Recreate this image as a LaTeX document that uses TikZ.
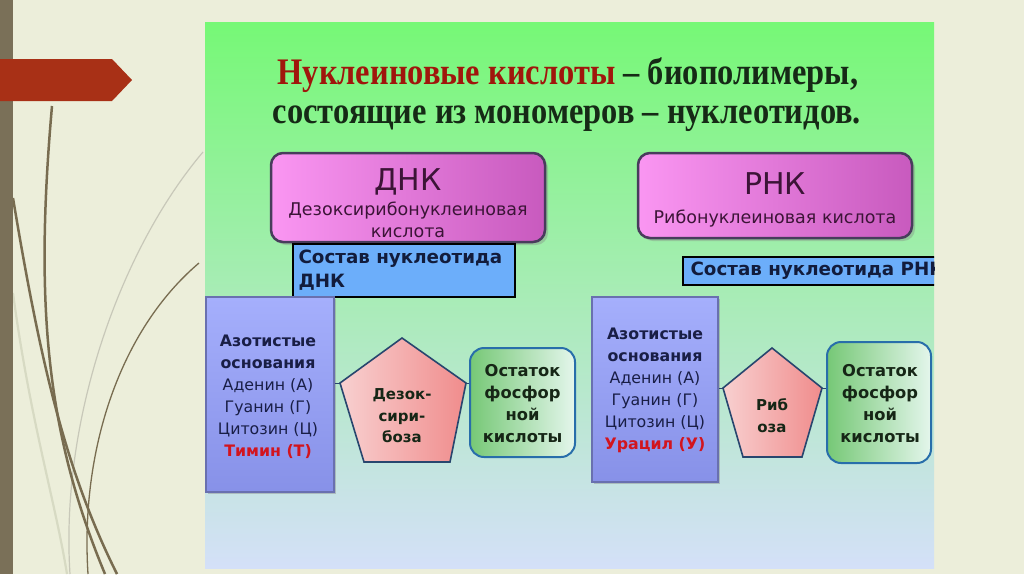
\documentclass[tikz,border=0pt]{standalone}
\usepackage{fontspec}
\setmainfont{DejaVu Sans}
\newfontfamily\titlefont{Liberation Serif}
\usetikzlibrary{shadows,calc}
\definecolor{slidebg}{RGB}{236,238,218}
\definecolor{barbrown}{RGB}{122,112,88}
\definecolor{arrowred}{RGB}{168,48,22}
\definecolor{curvebrown}{RGB}{120,108,80}
\definecolor{curvegray}{RGB}{200,200,185}
\definecolor{curvefaint}{RGB}{215,218,195}
\definecolor{bgtop}{RGB}{118,248,118}
\definecolor{bgmid}{RGB}{168,236,182}
\definecolor{bgbot}{RGB}{212,224,248}
\definecolor{titlered}{RGB}{160,22,12}
\definecolor{titledark}{RGB}{22,42,22}
\definecolor{pinkL}{RGB}{250,150,242}
\definecolor{pinkR}{RGB}{200,90,190}
\definecolor{pinkedge}{RGB}{72,60,92}
\definecolor{pinktext}{RGB}{60,20,55}
\definecolor{labelblue}{RGB}{108,174,250}
\definecolor{labeltext}{RGB}{18,28,60}
\definecolor{baseT}{RGB}{165,175,252}
\definecolor{baseB}{RGB}{135,145,232}
\definecolor{baseedge}{RGB}{105,112,175}
\definecolor{basered}{RGB}{210,20,30}
\definecolor{basetext}{RGB}{25,30,70}
\definecolor{pentL}{RGB}{248,208,208}
\definecolor{pentR}{RGB}{240,140,140}
\definecolor{pentedge}{RGB}{40,70,110}
\definecolor{greenL}{RGB}{118,200,118}
\definecolor{greenR}{RGB}{228,246,236}
\definecolor{greenedge}{RGB}{40,110,170}
\definecolor{darktext}{RGB}{22,38,22}
\tikzset{
  pinkbox/.style={draw=pinkedge, line width=2.5pt, rounded corners=12pt,
    left color=pinkL, right color=pinkR,
    drop shadow={shadow xshift=3pt, shadow yshift=-3pt, opacity=0.35}},
  labelbox/.style={draw=black, line width=2pt, fill=labelblue},
  basebox/.style={draw=baseedge, line width=2pt, top color=baseT, bottom color=baseB,
    drop shadow={shadow xshift=2pt, shadow yshift=-2pt, opacity=0.4}},
  pentshape/.style={draw=pentedge, line width=1.6pt, left color=pentL, right color=pentR},
  greenbox/.style={draw=greenedge, line width=2pt, rounded corners=14pt,
    left color=greenL, right color=greenR},
  basefont/.style={font=\fontsize{15.8}{22}\selectfont, text=basetext, align=center},
  boldfont/.style={font=\bfseries\fontsize{16.3}{22}\selectfont, text=darktext, align=center},
  titleline/.style={font=\titlefont\bfseries\fontsize{37.5}{40}\selectfont, anchor=base},
  tinylink/.style={draw=pentedge, line width=1pt}
}
\begin{document}
\begin{tikzpicture}[x=1pt,y=-1pt]
\useasboundingbox (0,0) rectangle (1024,574);
% slide background
\fill[slidebg] (0,0) rectangle (1024,574);
\draw[curvefaint, line width=2.2pt] (13,293) .. controls (30,420) and (55,500) .. (67,574);
\draw[curvegray, line width=1.2pt] (203,152) .. controls (120,250) and (60,420) .. (70,574);
\draw[curvebrown, line width=1.3pt] (199,263) .. controls (120,330) and (80,450) .. (88,574);
\draw[curvebrown, line width=2.5pt] (52,106) .. controls (35,300) and (45,430) .. (105,574);
\draw[curvebrown, line width=2.5pt] (13,198) .. controls (40,360) and (65,470) .. (117,574);
\fill[barbrown] (0,0) rectangle (13,574);
\fill[arrowred] (0,59) -- (112,59) -- (132,80) -- (112,101) -- (0,101) -- cycle;
% picture area
\shade[top color=bgtop, bottom color=bgbot, middle color=bgmid] (205,22) rectangle (934,568);
\begin{scope}
\clip (205,22) rectangle (934,568);
% title
\node[titleline] (t1) at (568,84) {\scalebox{0.865}[1]{\textcolor{titlered}{Нуклеиновые кислоты} \textcolor{titledark}{– биополимеры,}}};
\node[titleline] (t2) at (567,123) {\scalebox{0.865}[1]{\textcolor{titledark}{состоящие из мономеров – нуклеотидов.}}};
% DNA header
\node[pinkbox, minimum width=274pt, minimum height=89pt] (dnk) at (408,197.5) {};
\node[text=pinktext, font=\fontsize{30}{30}\selectfont] (dnkT) at (408,182) {ДНК};
\node[text=pinktext, font=\fontsize{17.5}{20}\selectfont] (dnkS) at (408,211) {Дезоксирибонуклеиновая};
\node[text=pinktext, font=\fontsize{17.5}{20}\selectfont] (dnkS2) at (408,233) {кислота};
\node[labelbox, minimum width=222pt, minimum height=53pt] (dnkL) at (404,270.5) {};
\node[anchor=west, align=left, text=labeltext, font=\bfseries\fontsize{18.3}{24}\selectfont] (dnkLT) at (295,270.5) {Состав нуклеотида\\ДНК};
% RNA header
\node[pinkbox, minimum width=274pt, minimum height=85pt] (rnk) at (775,195.5) {};
\node[text=pinktext, font=\fontsize{30}{30}\selectfont] (rnkT) at (775,184) {РНК};
\node[text=pinktext, font=\fontsize{17.5}{20}\selectfont] (rnkS) at (775,219) {Рибонуклеиновая кислота};
\node[labelbox, minimum width=277pt, minimum height=28pt] (rnkL) at (821.5,271) {};
\node[anchor=west, text=labeltext, font=\bfseries\fontsize{18.3}{20}\selectfont] (rnkLT) at (687,271) {Состав нуклеотида РНК};
% DNA composition
\node[basebox, minimum width=128pt, minimum height=195pt] (dbase) at (270,394.5) {};
\node[basefont] (dbaseT) at (268,397) {\textbf{Азотистые}\\\textbf{основания}\\Аденин (А)\\Гуанин (Г)\\Цитозин (Ц)\\\textcolor{basered}{\textbf{Тимин (Т)}}};
\coordinate (dp1) at (402,338);
\coordinate (dp2) at (466,383);
\coordinate (dp3) at (450,462);
\coordinate (dp4) at (364,462);
\coordinate (dp5) at (340,383);
\draw[pentshape] (dp1) -- (dp2) -- (dp3) -- (dp4) -- (dp5) -- cycle;
\node[boldfont, font=\bfseries\fontsize{15}{21.5}\selectfont] (dpT) at (402,416) {Дезок-\\сири-\\боза};
\node[greenbox, minimum width=105pt, minimum height=109pt] (dgreen) at (522.5,402.5) {};
\node[boldfont] (dgreenT) at (522.5,404) {Остаток\\фосфор\\ной\\кислоты};
\draw[tinylink] (dbase.east |- dp5) -- (dp5);
\draw[tinylink] (dp2) -- (dgreen.west |- dp2);
% RNA composition
\node[basebox, minimum width=126pt, minimum height=185pt] (rbase) at (655,389.5) {};
\node[basefont] (rbaseT) at (655,390) {\textbf{Азотистые}\\\textbf{основания}\\Аденин (А)\\Гуанин (Г)\\Цитозин (Ц)\\\textcolor{basered}{\textbf{Урацил (У)}}};
\coordinate (rp1) at (772,348);
\coordinate (rp2) at (822,388);
\coordinate (rp3) at (802,457);
\coordinate (rp4) at (743,457);
\coordinate (rp5) at (723,388);
\draw[pentshape] (rp1) -- (rp2) -- (rp3) -- (rp4) -- (rp5) -- cycle;
\node[boldfont, font=\bfseries\fontsize{15}{22}\selectfont] (rpT) at (772,416) {Риб\\оза};
\node[greenbox, minimum width=104pt, minimum height=121pt] (rgreen) at (879,402.5) {};
\node[boldfont] (rgreenT) at (880,404) {Остаток\\фосфор\\ной\\кислоты};
\draw[tinylink] (rbase.east |- rp5) -- (rp5);
\draw[tinylink] (rp2) -- (rgreen.west |- rp2);
\end{scope}
\end{tikzpicture}
\end{document}
